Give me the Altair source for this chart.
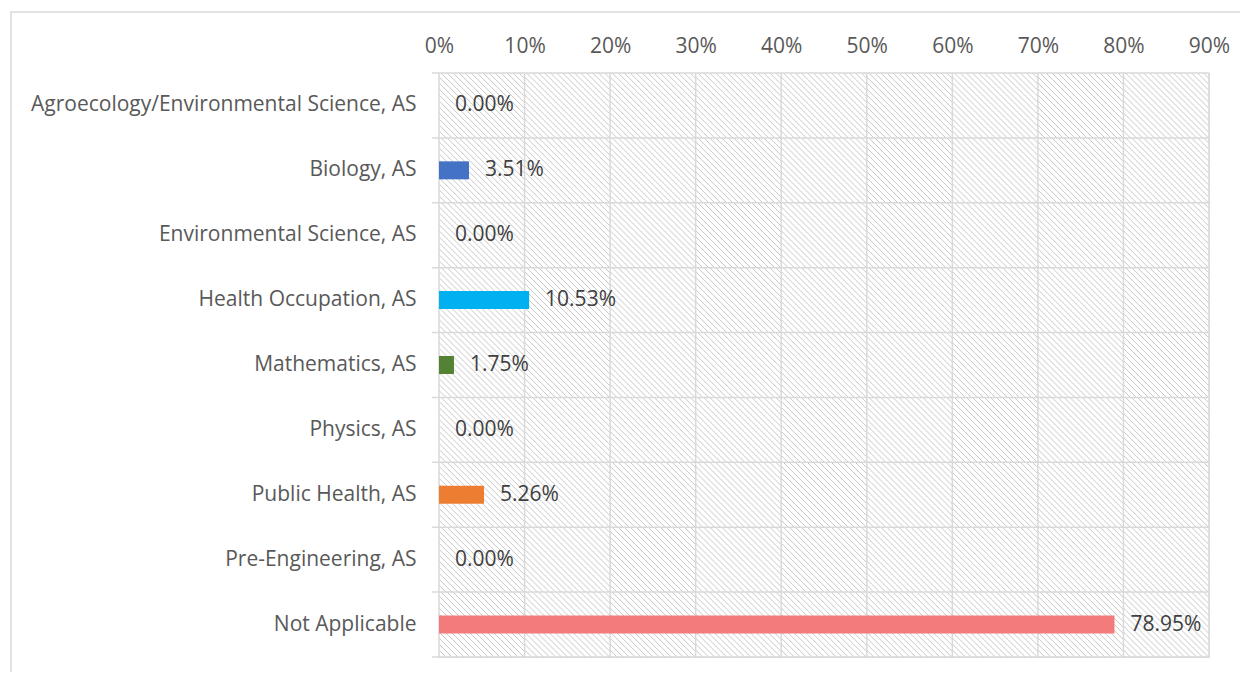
import altair as alt
import pandas as pd

categories = [
    "Agroecology/Environmental Science, AS",
    "Biology, AS",
    "Environmental Science, AS",
    "Health Occupation, AS",
    "Mathematics, AS",
    "Physics, AS",
    "Public Health, AS",
    "Pre-Engineering, AS",
    "Not Applicable",
]
values = [0.0, 0.0351, 0.0, 0.1053, 0.0175, 0.0, 0.0526, 0.0, 0.7895]
bar_colors = ["#4472C4", "#4472C4", "#A5A5A5", "#00B0F0", "#548235",
              "#A5A5A5", "#ED7D31", "#A5A5A5", "#F47B7B"]
x_ticks = [0, 0.1, 0.2, 0.3, 0.4, 0.5, 0.6, 0.7, 0.8, 0.9]

W, H = 770, 584
FONT = "Open Sans"
FS = 21
GRID = "#d9d9d9"

df = pd.DataFrame({"cat": categories, "val": values, "color": bar_colors})
ticks_df = pd.DataFrame({"t": x_ticks})
last_df = pd.DataFrame({"cat": [categories[-1]]})
cells_df = pd.DataFrame(
    [{"cat": c, "x0": a, "x1": b} for c in categories
     for a, b in zip(x_ticks[:-1], x_ticks[1:])]
)

# diagonal hatch (one striped gradient per grid cell, triangular line profile)
cw = W / (len(x_ticks) - 1)
ch = H / len(categories)
PERIOD = 6.0
HALF = 1.0
HATCH = "#c8c8c8"
S = cw + ch
stops = [{"offset": 0.0, "color": "#ffffff"}]
i = 0
while i * PERIOD + 2 * HALF < S:
    c = i * PERIOD + HALF
    stops += [
        {"offset": round((c - HALF) / S, 6), "color": "#ffffff"},
        {"offset": round(c / S, 6), "color": HATCH},
        {"offset": round((c + HALF) / S, 6), "color": "#ffffff"},
    ]
    i += 1
stops.append({"offset": 1.0, "color": "#ffffff"})
k = (cw + ch) / (cw * cw + ch * ch)
hatch = {"gradient": "linear", "stops": stops,
         "x1": 0, "y1": 1, "x2": k * cw, "y2": 1 - k * ch}

yscale = alt.Scale(domain=categories, paddingInner=0, paddingOuter=0)
xscale = alt.Scale(domain=[0, 0.9], nice=False)

border = alt.Chart(last_df).mark_rect(fill=None, stroke=GRID, strokeWidth=1.5, clip=False).encode(
    x=alt.value(-428), x2=alt.value(1000), y=alt.value(-61), y2=alt.value(700)
)

bg = alt.Chart(cells_df).mark_rect(fill=hatch).encode(
    x=alt.X("x0:Q", scale=xscale), x2="x1:Q",
    y=alt.Y("cat:N", scale=yscale, sort=categories),
)

hgrid = alt.Chart(df).mark_rule(color=GRID, strokeWidth=1.5).encode(
    y=alt.Y("cat:N", scale=yscale, sort=categories, bandPosition=0,
            axis=alt.Axis(title=None, ticks=False, domain=False, grid=False,
                          labelPadding=23, labelFont=FONT, labelFontSize=FS,
                          labelColor="#595959", labelLimit=500)),
    x=alt.value(-7), x2=alt.value(W),
)
hgrid_bottom = alt.Chart(last_df).mark_rule(color=GRID, strokeWidth=1.5).encode(
    y=alt.Y("cat:N", scale=yscale, sort=categories, bandPosition=1),
    x=alt.value(-7), x2=alt.value(W),
)
vgrid = alt.Chart(ticks_df).mark_rule(color=GRID, strokeWidth=1.5).encode(
    x=alt.X("t:Q", scale=xscale,
            axis=alt.Axis(title=None, orient="top", values=x_ticks, format=".0%",
                          ticks=False, domain=False, grid=False, labelPadding=17,
                          labelFlush=False, labelOverlap=False,
                          labelFont=FONT, labelFontSize=FS, labelColor="#595959")),
    y=alt.value(0), y2=alt.value(H),
)

bars = alt.Chart(df).mark_bar(size=18).encode(
    y=alt.Y("cat:N", scale=yscale, sort=categories),
    x=alt.X("val:Q", scale=xscale),
    color=alt.Color("color:N", scale=None),
)

labels = alt.Chart(df).mark_text(align="left", baseline="middle", dx=16,
                                 font=FONT, fontSize=FS, color="#404040").encode(
    y=alt.Y("cat:N", scale=yscale, sort=categories),
    x=alt.X("val:Q", scale=xscale),
    text=alt.Text("val:Q", format=".2%"),
)

chart = alt.layer(border, bg, hgrid, hgrid_bottom, vgrid, bars, labels).properties(
    width=W, height=H,
    padding={"left": 431, "top": 65, "right": 31, "bottom": 15},
    autosize="none",
).configure_view(stroke=None).configure(background="white")

chart.save("out.html", embed_options={"renderer": "svg", "actions": False})
